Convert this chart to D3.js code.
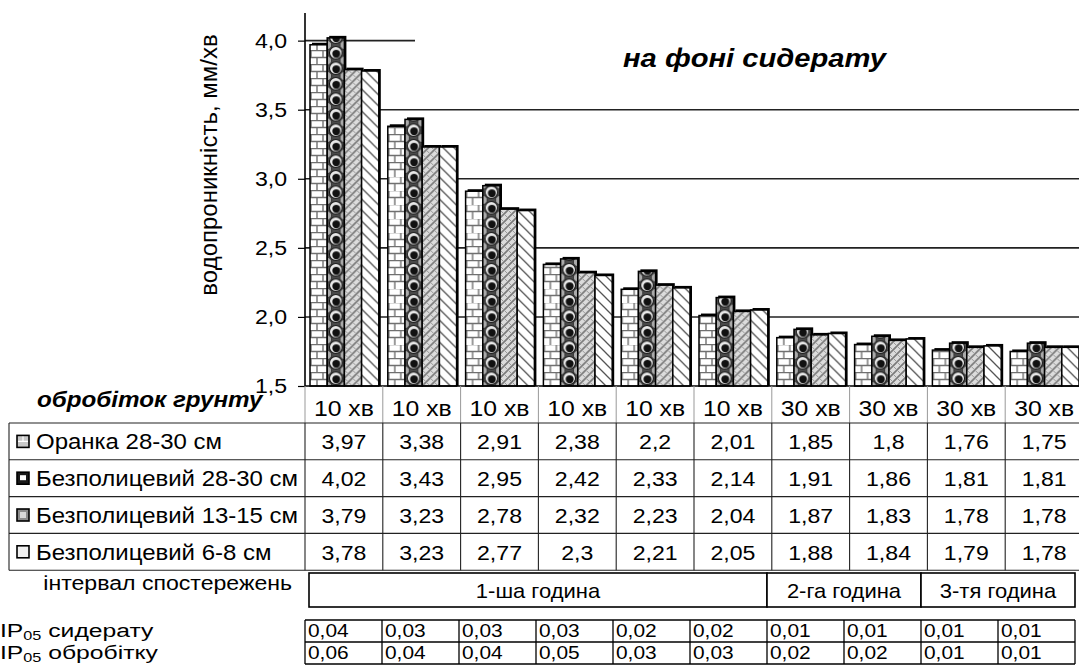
<!DOCTYPE html>
<html><head><meta charset="utf-8">
<script src="https://cdn.jsdelivr.net/npm/d3@7"></script>
<style>
html,body{margin:0;padding:0;background:#fff;}
svg{display:block;}
text{font-family:Arial,"Liberation Sans",sans-serif;fill:#000;}
.narrow{font-family:"Liberation Sans Narrow","Arial Narrow",Arial,sans-serif;}
</style></head>
<body>
<svg id="chart" width="1079" height="669"></svg>
<script>
// ---------- data ----------
const categories = ["10 хв","10 хв","10 хв","10 хв","10 хв","10 хв","30 хв","30 хв","30 хв","30 хв"];
const seriesNames = ["Оранка 28-30 см","Безполицевий 28-30 см","Безполицевий 13-15 см","Безполицевий 6-8 см"];
const oranka2830 = [3.97,3.38,2.91,2.38,2.2,2.01,1.85,1.8,1.76,1.75];
const bezp2830   = [4.02,3.43,2.95,2.42,2.33,2.14,1.91,1.86,1.81,1.81];
const bezp1315   = [3.79,3.23,2.78,2.32,2.23,2.04,1.87,1.83,1.78,1.78];
const bezp68     = [3.78,3.23,2.77,2.3,2.21,2.05,1.88,1.84,1.79,1.78];
const yTicks = [1.5,2.0,2.5,3.0,3.5,4.0];
const intervalLabels = ["1-ша година","2-га година","3-тя година"];
const intervalSpans = [6,2,2];
const ipSideratu = ["0,04","0,03","0,03","0,03","0,02","0,02","0,01","0,01","0,01","0,01"];
const ipObrobitku = ["0,06","0,04","0,04","0,05","0,03","0,03","0,02","0,02","0,01","0,01"];
const yTitle = "водопроникність, мм/хв";
const chartTitle = "на фоні сидерату";
const tableTitle = "обробіток грунту";
const intervalTitle = "інтервал спостережень";

const seriesValues = [oranka2830, bezp2830, bezp1315, bezp68];

// ---------- layout ----------
const SX = 1.1; // horizontal glyph stretch seen in the reference
const svg = d3.select("#chart");
const defs = svg.append("defs");
const axisX = 305, plotRight = 1083;
const baseY = 386;
const y = d3.scaleLinear().domain([1.5, 4.2]).range([baseY, 13]);
const x = d3.scaleBand().domain(d3.range(categories.length)).range([axisX, plotRight]);
const xs = d3.scaleBand().domain(d3.range(seriesNames.length)).range([5, x.bandwidth() - 4]);
const bw = xs.bandwidth();
const fmt = v => String(v).replace(".", ",");

function T(parent, tx, ty, str, size, anchor, cls, sx) {
  const t = parent.append("text").attr("transform", `translate(${tx},${ty}) scale(${sx || SX},1)`)
    .attr("text-anchor", anchor || "start").attr("font-size", size);
  if (cls) t.attr("class", cls);
  if (str !== null) t.text(str);
  return t;
}

// ---------- patterns ----------
function makePattern(s, id, ox, oy) {
  if (s === 0) { // bricks
    const p = defs.append("pattern").attr("id", id).attr("patternUnits","userSpaceOnUse")
      .attr("x", ox).attr("y", oy).attr("width", 12).attr("height", 14);
    p.append("rect").attr("width",12).attr("height",14).attr("fill","#fff");
    p.append("path").attr("d","M0,0.5H12M0,7.5H12M1,0V7M7,7V14").attr("stroke","#707070").attr("stroke-width",1.4).attr("fill","none");
  } else if (s === 1) { // spheres
    const w = bw, h = 15.5;
    const p = defs.append("pattern").attr("id", id).attr("patternUnits","userSpaceOnUse")
      .attr("x", ox).attr("y", oy).attr("width", w).attr("height", h);
    p.append("rect").attr("width",w).attr("height",h).attr("fill","#4a4a4a");
    [[0,0],[w,0],[0,h],[w,h]].forEach(c=>p.append("circle").attr("cx",c[0]).attr("cy",c[1]).attr("r",4.5).attr("fill","#aaa").attr("stroke","#222").attr("stroke-width",0.8));
    p.append("circle").attr("cx",w/2).attr("cy",h/2).attr("r",6.3).attr("fill","#e8e8e8").attr("stroke","#111").attr("stroke-width",1);
    p.append("circle").attr("cx",w/2+0.5).attr("cy",h/2+1).attr("r",4).attr("fill","#111");
  } else if (s === 2) { // gray weave
    const p = defs.append("pattern").attr("id", id).attr("patternUnits","userSpaceOnUse")
      .attr("x", ox).attr("y", oy).attr("width", 8).attr("height", 8);
    p.append("rect").attr("width",8).attr("height",8).attr("fill","#dcdcdc");
    p.append("path").attr("d","M0,8L8,0M-2,2L2,-2M6,10L10,6").attr("stroke","#7a7a7a").attr("stroke-width",1.7).attr("fill","none");
    p.append("path").attr("d","M0,0L4,4M4,4L8,8").attr("stroke","#999").attr("stroke-width",1).attr("fill","none");
  } else { // wide back-diagonals
    const p = defs.append("pattern").attr("id", id).attr("patternUnits","userSpaceOnUse")
      .attr("x", ox).attr("y", oy).attr("width", 11).attr("height", 11);
    p.append("rect").attr("width",11).attr("height",11).attr("fill","#fff");
    p.append("path").attr("d","M0,0L11,11M-2,9L2,13M9,-2L13,2").attr("stroke","#555").attr("stroke-width",1.3).attr("fill","none");
  }
}

// ---------- gridlines ----------
svg.append("g").selectAll("line").data(yTicks.filter(t => t > 1.5)).join("line")
  .attr("x1", axisX).attr("x2", plotRight).attr("y1", d => y(d)).attr("y2", d => y(d))
  .attr("stroke", "#222").attr("stroke-width", 1.6);

// white title box (covers part of top gridline)
svg.append("rect").attr("x", 415).attr("y", 0).attr("width", 700).attr("height", 100).attr("fill", "#fff");
T(svg, 623, 67, chartTitle, 26.5).attr("font-weight","bold").attr("font-style","italic");

// ---------- bars ----------
const gBars = svg.append("g");
categories.forEach((c, i) => {
  seriesValues.forEach((vals, s) => {
    const bx = x(i) + xs(s), by = y(vals[i]);
    const id = `pat-${s}-${i}`;
    makePattern(s, id, bx, baseY);
    gBars.append("rect").attr("x", bx + 2).attr("y", by - 2).attr("width", bw).attr("height", baseY - by + 2).attr("fill", "#000");
    gBars.append("rect").attr("x", bx).attr("y", by).attr("width", bw).attr("height", baseY - by)
      .attr("fill", `url(#${id})`).attr("stroke", "#000").attr("stroke-width", 1.5);
  });
});

// ---------- y axis ----------
const yAxis = d3.axisLeft(y).tickValues(yTicks).tickSize(7).tickPadding(5).tickFormat(d => d3.format(".1f")(d).replace(".", ","));
const gy = svg.append("g").attr("transform", `translate(${axisX},0)`).call(yAxis);
gy.select(".domain").attr("d", `M0,${y(4.2)}V${baseY}`).attr("stroke", "#000").attr("stroke-width", 1.6);
gy.selectAll(".tick line").attr("stroke", "#000").attr("stroke-width", 1.2);
gy.selectAll(".tick text").attr("font-size", 21).attr("font-family", "Arial, 'Liberation Sans', sans-serif")
  .attr("fill","#000").attr("x", -18 / SX).attr("transform", `scale(${SX},1)`);

svg.append("text").attr("transform", `translate(217,165) rotate(-90)`).attr("text-anchor","middle")
  .attr("font-size", 24).text(yTitle);

// baseline
svg.append("line").attr("x1", axisX).attr("x2", plotRight).attr("y1", baseY).attr("y2", baseY).attr("stroke","#000").attr("stroke-width",1.6);

// ---------- data table ----------
const headBottom = 423, rowH = 36.8;
const tableLeft = 9;
const gt = svg.append("g");
gt.selectAll("line.hv").data(d3.range(categories.length + 1)).join("line").attr("class","hv")
  .attr("x1", i => i < categories.length ? x(i) : plotRight).attr("x2", i => i < categories.length ? x(i) : plotRight)
  .attr("y1", baseY).attr("y2", headBottom).attr("stroke", "#999").attr("stroke-width", 1);
categories.forEach((d, i) => T(gt, x(i) + x.bandwidth()/2, baseY + 30, d, 22.5, "middle"));
d3.range(seriesNames.length + 1).forEach(r => {
  gt.append("line").attr("x1", tableLeft).attr("x2", plotRight).attr("y1", headBottom + r*rowH).attr("y2", headBottom + r*rowH)
    .attr("stroke", "#222").attr("stroke-width", 1.1);
});
gt.append("line").attr("x1", tableLeft).attr("x2", tableLeft).attr("y1", headBottom).attr("y2", headBottom + 4*rowH).attr("stroke","#222").attr("stroke-width",1.1);
d3.range(categories.length).forEach(i => {
  gt.append("line").attr("x1", x(i)).attr("x2", x(i)).attr("y1", headBottom).attr("y2", headBottom + 4*rowH).attr("stroke","#222").attr("stroke-width",1.1);
});
const iconFills = ["#c8c8c8", "#1a1a1a", "#8c8c8c", "#f0f0f0"];
seriesNames.forEach((name, s) => {
  const cy = headBottom + s*rowH + rowH/2;
  gt.append("rect").attr("x", 17).attr("y", cy - 6).attr("width", 12).attr("height", 12).attr("fill", iconFills[s]).attr("stroke","#000").attr("stroke-width",1.6);
  if (s === 0) gt.append("path").attr("d", `M18,${cy}H28M23,${cy-5}V${cy}`).attr("stroke","#fff").attr("stroke-width",1.2);
  if (s === 1) gt.append("rect").attr("x", 20).attr("y", cy-3).attr("width",6).attr("height",5).attr("fill","#fff");
  if (s === 2) gt.append("rect").attr("x", 20).attr("y", cy-3).attr("width",6).attr("height",6).attr("fill","#d8d8d8");
  T(gt, 36, cy + 8, name, 21.8);
  seriesValues[s].forEach((v, i) => T(gt, x(i) + x.bandwidth()/2, cy + 8, fmt(v), 21, "middle"));
});
T(svg, 37, 407, tableTitle, 22).attr("font-weight","bold").attr("font-style","italic");

// ---------- interval row ----------
const xi = d3.scaleLinear().domain([0, categories.length]).range([axisX, 1075]);
T(svg, 292, 590, intervalTitle, 21, "end");
let start = 0;
intervalLabels.forEach((lab, k) => {
  const x1 = k === 0 ? xi(start) + 4 : xi(start), x2 = xi(start + intervalSpans[k]);
  svg.append("rect").attr("x", x1).attr("y", 573).attr("width", x2 - x1).attr("height", 34)
    .attr("fill", "#fff").attr("stroke", "#000").attr("stroke-width", 1.6);
  T(svg, (x1 + x2)/2, 598, lab, 20, "middle", "narrow");
  start += intervalSpans[k];
});

// ---------- IP05 table ----------
const ipRows = [ipSideratu, ipObrobitku];
const ipLabels = [["IP","05"," сидерату"],["IP","05"," обробітку"]];
const ipTop = 620, ipH = 22;
ipRows.forEach((row, r) => {
  const ty = ipTop + r*ipH + 17;
  const t = T(svg, 0, ty, null, 19, "start", null, 1.3);
  t.append("tspan").text(ipLabels[r][0]);
  t.append("tspan").attr("font-size", 12.5).attr("dy", 3).text(ipLabels[r][1]);
  t.append("tspan").attr("dy", -3).text(ipLabels[r][2]);
  row.forEach((v, i) => T(svg, xi(i) + 3, ty, v, 19, "start", "narrow"));
});
d3.range(3).forEach(r => {
  svg.append("line").attr("x1", xi(0)).attr("x2", xi(categories.length)).attr("y1", ipTop + r*ipH).attr("y2", ipTop + r*ipH).attr("stroke","#000").attr("stroke-width",1.3);
});
d3.range(categories.length + 1).forEach(i => {
  svg.append("line").attr("x1", xi(i)).attr("x2", xi(i)).attr("y1", ipTop).attr("y2", ipTop + 2*ipH).attr("stroke","#000").attr("stroke-width",1.3);
});
</script>
</body></html>
